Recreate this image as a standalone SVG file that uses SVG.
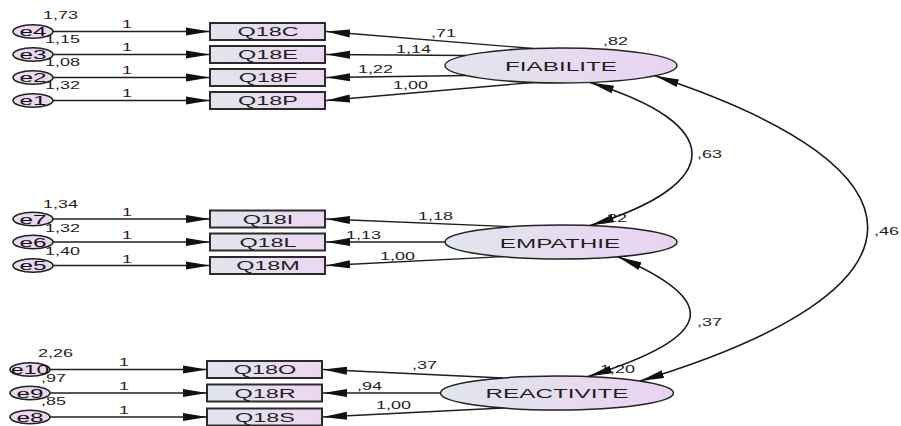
<svg xmlns="http://www.w3.org/2000/svg" width="901" height="426" viewBox="0 0 901 426">
  <defs>
    <linearGradient id="gBox" x1="0" y1="0" x2="1" y2="0">
      <stop offset="0" stop-color="#e1e5ec"/>
      <stop offset="1" stop-color="#ecd6f1"/>
    </linearGradient>
    <linearGradient id="gLat" x1="0" y1="0" x2="1" y2="0">
      <stop offset="0" stop-color="#e1e6ed"/>
      <stop offset="1" stop-color="#ead2f2"/>
    </linearGradient>
    <linearGradient id="gErr" x1="0" y1="0" x2="1" y2="0">
      <stop offset="0" stop-color="#e6dcef"/>
      <stop offset="1" stop-color="#edd5f2"/>
    </linearGradient>
    <marker id="arrow" viewBox="0 0 24 10" refX="24" refY="5" markerWidth="24" markerHeight="10" markerUnits="userSpaceOnUse" orient="auto-start-reverse">
      <path d="M0,1 L24,5 L0,9 Z" fill="#111"/>
    </marker>
  </defs>
  <style>
    .box{fill:url(#gBox);stroke:#2b2b2b;stroke-width:2}
    .lat{fill:url(#gLat);stroke:#222;stroke-width:1.5}
    .err{fill:url(#gErr);stroke:#222;stroke-width:1.6}
    text{font-family:"Liberation Sans",Arial,sans-serif;fill:#1e1e1e}
    .nm{font-size:13.5px;text-anchor:middle}
    .obs{font-size:13px;text-anchor:middle}
    .en{font-size:13.5px;text-anchor:middle;fill:#111}
    .num{font-size:10px}
    .ln{fill:none;stroke:#1e1e1e;stroke-width:1.3;marker-end:url(#arrow)}
    .cov{fill:none;stroke:#1a1a1a;stroke-width:1.6;marker-start:url(#arrow);marker-end:url(#arrow)}
  </style>
  <rect width="901" height="426" fill="#fff"/>

  <!-- error terms, FIABILITE block -->
  <g id="e4"><ellipse class="err" cx="33" cy="31.5" rx="20" ry="6.8"/><text class="en" transform="translate(33,36.3) scale(1.8,1)">e4</text><text class="num" transform="translate(43,19) scale(1.8,1)">1,73</text></g>
  <g id="e3"><ellipse class="err" cx="33" cy="54.5" rx="20" ry="6.8"/><text class="en" transform="translate(33,59.3) scale(1.8,1)">e3</text><text class="num" transform="translate(45,42.5) scale(1.8,1)">1,15</text></g>
  <g id="e2"><ellipse class="err" cx="33" cy="77.5" rx="20" ry="6.8"/><text class="en" transform="translate(33,82.3) scale(1.8,1)">e2</text><text class="num" transform="translate(45,66) scale(1.8,1)">1,08</text></g>
  <g id="e1"><ellipse class="err" cx="33" cy="100.5" rx="20" ry="6.8"/><text class="en" transform="translate(33,105.3) scale(1.8,1)">e1</text><text class="num" transform="translate(45,89) scale(1.8,1)">1,32</text></g>

  <!-- error terms, EMPATHIE block -->
  <g id="e7"><ellipse class="err" cx="33" cy="219" rx="20" ry="6.8"/><text class="en" transform="translate(33,223.8) scale(1.8,1)">e7</text><text class="num" transform="translate(43,208) scale(1.8,1)">1,34</text></g>
  <g id="e6"><ellipse class="err" cx="33" cy="242" rx="20" ry="6.8"/><text class="en" transform="translate(33,246.8) scale(1.8,1)">e6</text><text class="num" transform="translate(45,232) scale(1.8,1)">1,32</text></g>
  <g id="e5"><ellipse class="err" cx="33" cy="265.5" rx="20" ry="6.8"/><text class="en" transform="translate(33,270.3) scale(1.8,1)">e5</text><text class="num" transform="translate(45,255) scale(1.8,1)">1,40</text></g>

  <!-- error terms, REACTIVITE block -->
  <g id="e10"><ellipse class="err" cx="30" cy="369.5" rx="20" ry="6.8"/><text class="en" transform="translate(30,374.3) scale(1.7,1)">e10</text><text class="num" transform="translate(38,357) scale(1.8,1)">2,26</text></g>
  <g id="e9"><ellipse class="err" cx="30" cy="393" rx="20" ry="6.8"/><text class="en" transform="translate(30,397.8) scale(1.8,1)">e9</text><text class="num" transform="translate(41,382) scale(1.8,1)">,97</text></g>
  <g id="e8"><ellipse class="err" cx="30" cy="417" rx="20" ry="6.8"/><text class="en" transform="translate(30,421.8) scale(1.8,1)">e8</text><text class="num" transform="translate(41,405) scale(1.8,1)">,85</text></g>

  <!-- observed items -->
  <g id="Q18C"><rect class="box" x="210" y="23" width="115" height="17"/><text class="obs" transform="translate(268,36.2) scale(1.8,1)">Q18C</text></g>
  <g id="Q18E"><rect class="box" x="210" y="46" width="115" height="17"/><text class="obs" transform="translate(268,59.2) scale(1.8,1)">Q18E</text></g>
  <g id="Q18F"><rect class="box" x="210" y="69" width="115" height="17"/><text class="obs" transform="translate(268,82.2) scale(1.8,1)">Q18F</text></g>
  <g id="Q18P"><rect class="box" x="210" y="92" width="115" height="17"/><text class="obs" transform="translate(268,105.2) scale(1.8,1)">Q18P</text></g>

  <g id="Q18I"><rect class="box" x="210" y="210.5" width="115" height="17"/><text class="obs" transform="translate(268,223.7) scale(1.8,1)">Q18I</text></g>
  <g id="Q18L"><rect class="box" x="210" y="233.5" width="115" height="17"/><text class="obs" transform="translate(268,246.7) scale(1.8,1)">Q18L</text></g>
  <g id="Q18M"><rect class="box" x="210" y="257" width="115" height="17"/><text class="obs" transform="translate(268,270.2) scale(1.8,1)">Q18M</text></g>

  <g id="Q18O"><rect class="box" x="207" y="361" width="115" height="17"/><text class="obs" transform="translate(265,374.2) scale(1.8,1)">Q18O</text></g>
  <g id="Q18R"><rect class="box" x="207" y="384.5" width="115" height="17"/><text class="obs" transform="translate(265,397.7) scale(1.8,1)">Q18R</text></g>
  <g id="Q18S"><rect class="box" x="207" y="408.5" width="115" height="17"/><text class="obs" transform="translate(265,421.7) scale(1.8,1)">Q18S</text></g>

  <!-- latent factors -->
  <g id="FIABILITE"><ellipse class="lat" cx="561" cy="65.5" rx="116" ry="17.5"/><text class="nm" transform="translate(561,71) scale(1.8,1)">FIABILITE</text><text class="num" transform="translate(603,45) scale(1.8,1)">,82</text></g>
  <g id="EMPATHIE"><ellipse class="lat" cx="561" cy="242" rx="116" ry="17"/><text class="nm" transform="translate(560,248) scale(1.8,1)">EMPATHIE</text><text class="num" transform="translate(602,222) scale(1.8,1)">,22</text></g>
  <g id="REACTIVITE"><ellipse class="lat" cx="557" cy="393" rx="116.5" ry="17"/><text class="nm" transform="translate(557,398) scale(1.8,1)">REACTIVITE</text><text class="num" transform="translate(600,373) scale(1.8,1)">1,20</text></g>

  <!-- paths, covariances and their estimates -->
  <g id="connectors">
    <path class="ln" d="M53,31.5 L210,31.5"/>
    <path class="ln" d="M53,54.5 L210,54.5"/>
    <path class="ln" d="M53,77.5 L210,77.5"/>
    <path class="ln" d="M53,100.5 L210,100.5"/>
    <path class="ln" d="M53,219 L210,219"/>
    <path class="ln" d="M53,242 L210,242"/>
    <path class="ln" d="M53,265.5 L210,265.5"/>
    <path class="ln" d="M50,369.5 L207,369.5"/>
    <path class="ln" d="M50,393 L207,393"/>
    <path class="ln" d="M50,417 L207,417"/>

    <path class="ln" d="M533,48.5 L326,31.5"/>
    <path class="ln" d="M466,55.5 L326,54.5"/>
    <path class="ln" d="M466,75.5 L326,77.5"/>
    <path class="ln" d="M533,82.5 L326,100.5"/>
    <path class="ln" d="M510,226.7 L326,219"/>
    <path class="ln" d="M445,242 L326,242"/>
    <path class="ln" d="M503,256.7 L326,265.5"/>
    <path class="ln" d="M503,378 L323,369.5"/>
    <path class="ln" d="M440.5,393 L323,393"/>
    <path class="ln" d="M503,408 L323,417"/>

    <path class="cov" d="M590,82.5 C726,124 726,184 590,225.5"/>
    <path class="cov" d="M655,75.8 C941,170 941,290 640,381"/>
    <path class="cov" d="M618,256.8 C719,300 719,336 588,376.6"/>

    <g class="num">
      <text class="num" transform="translate(122,27.5) scale(1.8,1)">1</text>
      <text class="num" transform="translate(122,50.5) scale(1.8,1)">1</text>
      <text class="num" transform="translate(122,73.5) scale(1.8,1)">1</text>
      <text class="num" transform="translate(122,96.5) scale(1.8,1)">1</text>
      <text class="num" transform="translate(122,216) scale(1.8,1)">1</text>
      <text class="num" transform="translate(122,239) scale(1.8,1)">1</text>
      <text class="num" transform="translate(122,262.5) scale(1.8,1)">1</text>
      <text class="num" transform="translate(119,366) scale(1.8,1)">1</text>
      <text class="num" transform="translate(119,390) scale(1.8,1)">1</text>
      <text class="num" transform="translate(119,414) scale(1.8,1)">1</text>

      <text class="num" transform="translate(431,37) scale(1.8,1)">,71</text>
      <text class="num" transform="translate(396,52.5) scale(1.8,1)">1,14</text>
      <text class="num" transform="translate(358,73) scale(1.8,1)">1,22</text>
      <text class="num" transform="translate(393,89) scale(1.8,1)">1,00</text>
      <text class="num" transform="translate(418,220) scale(1.8,1)">1,18</text>
      <text class="num" transform="translate(346,239) scale(1.8,1)">1,13</text>
      <text class="num" transform="translate(380,260) scale(1.8,1)">1,00</text>
      <text class="num" transform="translate(412,369) scale(1.8,1)">,37</text>
      <text class="num" transform="translate(357,390) scale(1.8,1)">,94</text>
      <text class="num" transform="translate(376,409) scale(1.8,1)">1,00</text>

      <text class="num" transform="translate(697,158) scale(1.8,1)">,63</text>
      <text class="num" transform="translate(874,235) scale(1.8,1)">,46</text>
      <text class="num" transform="translate(697,326) scale(1.8,1)">,37</text>
    </g>
  </g>
</svg>
